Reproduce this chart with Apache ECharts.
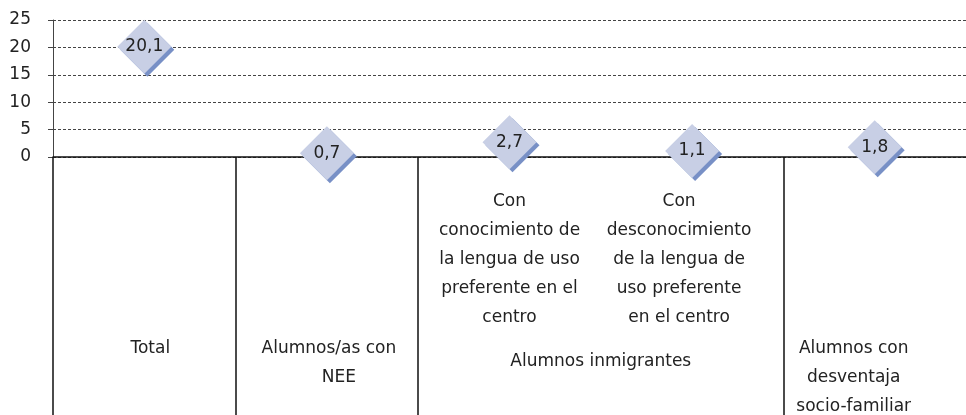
<!DOCTYPE html>
<html>
<head>
<meta charset="utf-8">
<script src="https://cdn.jsdelivr.net/npm/echarts@6/dist/echarts.min.js"></script>
<style>
  html, body { margin: 0; padding: 0; background: #fff; }
  #chart { width: 966px; height: 415px; }
</style>
</head>
<body>
<div id="chart"></div>
<script>
// datos
var categories = ['Total', 'NEE', 'Con conocimiento', 'Con desconocimiento', 'Desventaja']
var values = [20.1, 0.7, 2.7, 1.1, 1.8]
var subLabels = ['', '',
  'Con\nconocimiento de\nla lengua de uso\npreferente en el\ncentro',
  'Con\ndesconocimiento\nde la lengua de\nuso preferente\nen el centro',
  '']
var mainLabels = ['Total', 'Alumnos/as con\nNEE', '', '', 'Alumnos con\ndesventaja\nsocio-familiar']
var groupLabel = 'Alumnos inmigrantes'
var groupPos = [3]
var dividers = [0, 1, 2, 4]
var yMin = 0
var yMax = 25
var yStep = 5

var font = 'DejaVu Sans'
var txt = { fontFamily: font, fontSize: 17, color: '#222', lineHeight: 29 }

function rich(extra) {
  return Object.assign({}, txt, extra)
}

var chart = echarts.init(document.getElementById('chart'))
var option = {
  animation: false,
  grid: { left: 53, right: -12, top: 20, bottom: 258, containLabel: false },
  xAxis: [
    {
      type: 'category',
      data: categories,
      boundaryGap: true,
      axisLine: { lineStyle: { color: '#111', width: 1.5 } },
      axisTick: { show: false },
      axisLabel: {
        interval: 0,
        margin: 30,
        formatter: function (v, i) {
          if (!subLabels[i]) return ''
          return subLabels[i].split('\n').map(function (l) {
            return '{s' + i + '|' + l + '}'
          }).join('\n')
        },
        rich: {
          s2: rich({}),
          s3: rich({ padding: [0, 26, 0, 0] })
        }
      }
    },
    {
      type: 'category',
      data: categories,
      position: 'bottom',
      boundaryGap: true,
      axisLine: { show: false },
      axisTick: { show: false },
      axisLabel: {
        interval: 0,
        margin: 177,
        formatter: function (v, i) {
          if (!mainLabels[i]) return ''
          if (i === 0) return '{t|' + mainLabels[i] + '}'
          if (i === 1) {
            var p = mainLabels[i].split('\n')
            return '{a|' + p[0] + '}\n{n|' + p[1] + '}'
          }
          return mainLabels[i].split('\n').map(function (l) {
            return '{d|' + l + '}'
          }).join('\n')
        },
        rich: {
          t: rich({ padding: [0, 0, 0, 12] }),
          a: rich({ padding: [0, 0, 0, 4] }),
          n: rich({ padding: [0, 0, 0, 24] }),
          d: rich({ padding: [0, 42, 0, 0] })
        }
      }
    },
    {
      type: 'value',
      min: 0,
      max: categories.length,
      position: 'bottom',
      axisLine: { show: false },
      splitLine: { show: false },
      axisTick: {
        show: true,
        customValues: dividers,
        length: 270,
        lineStyle: { color: '#111', width: 1.5 }
      },
      axisLabel: {
        customValues: groupPos,
        margin: 190,
        fontFamily: font,
        fontSize: 17,
        color: '#222',
        lineHeight: 29,
        formatter: function () {
          return groupLabel
        }
      }
    }
  ],
  yAxis: {
    type: 'value',
    min: yMin,
    max: yMax,
    interval: yStep,
    axisLine: { show: true, lineStyle: { color: '#444', width: 1 } },
    axisTick: { show: true, length: 5, lineStyle: { color: '#444' } },
    axisLabel: { margin: 22, fontFamily: font, fontSize: 17, color: '#222' },
    splitLine: { lineStyle: { color: '#444', type: [3, 2], width: 1 } }
  },
  series: [
    {
      type: 'scatter',
      xAxisIndex: 0,
      data: values,
      symbol: 'diamond',
      symbolSize: [54, 54],
      z: 5,
      itemStyle: {
        color: '#c8cfe5',
        shadowColor: '#7890c6',
        shadowOffsetX: 3,
        shadowOffsetY: 3,
        shadowBlur: 0,
        opacity: 1
      },
      label: {
        show: true,
        position: 'inside',
        fontFamily: font,
        fontSize: 17,
        color: '#222',
        formatter: function (p) {
          return String(p.value).replace('.', ',')
        }
      }
    }
  ]
}
chart.setOption(option)
</script>
</body>
</html>
